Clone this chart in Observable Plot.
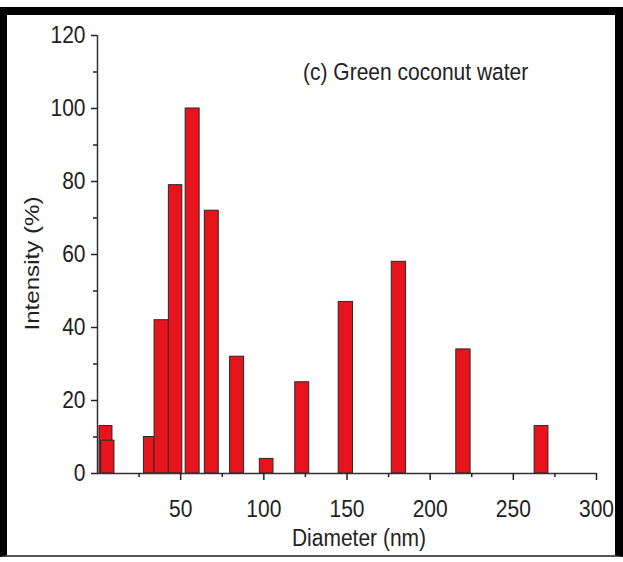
<!DOCTYPE html>
<html><head><meta charset="utf-8">
<script src="https://cdn.jsdelivr.net/npm/d3@7"></script>
<script src="https://cdn.jsdelivr.net/npm/@observablehq/plot@0.6"></script>
<style>
body{margin:0;background:#fff;}
#wrap{position:relative;width:623px;height:562px;overflow:hidden;font-family:"Liberation Sans",Arial,sans-serif;}
#chart{position:absolute;left:0;top:0;}
#frame{position:absolute;left:0;top:7px;width:623px;height:550px;box-sizing:border-box;border-left:7px solid #000;border-top:8px solid #000;border-right:8px solid #000;border-bottom:2px solid #555;pointer-events:none;}
#title{position:absolute;left:303px;top:60px;font-size:21px;color:#222;white-space:nowrap;transform:scaleY(1.15);transform-origin:center;}
</style></head>
<body>
<div id="wrap"><div id="chart"></div><div id="title">(c) Green coconut water</div><div id="frame"></div></div>
<script>
// Diameter bins (nm) and intensity (%)
const binStart  = [1.2, 2.2, 27.9, 34.3, 42.9, 53.0, 64.5, 79.7, 97.6, 118.9, 145.0, 176.9, 215.7, 262.8];
const binEnd    = [9.0, 10.2, 34.3, 42.9, 51.0, 61.4, 72.9, 88.1, 105.8, 127.3, 153.6, 185.5, 224.3, 271.1];
const intensity = [13, 9, 10, 42, 79, 100, 72, 32, 4, 25, 47, 58, 34, 13];

const xMajor = [50, 100, 150, 200, 250, 300];
const xMinor = [25, 75, 125, 175, 225, 275];
const yMajor = [0, 20, 40, 60, 80, 100, 120];
const yMinor = [10, 30, 50, 70, 90, 110];
const xLabel = "Diameter (nm)";
const yLabel = "Intensity (%)";

const data = intensity.map((v, i) => ({x1: binStart[i], x2: binEnd[i], y: v}));

const chart = Plot.plot({
  width: 623, height: 562,
  marginLeft: 97, marginRight: 27, marginTop: 35, marginBottom: 89,
  x: {domain: [0, 300]},
  y: {domain: [0, 120]},
  style: {fontFamily: '"Liberation Sans", Arial, sans-serif', fontSize: "21px", color: "#222", background: "transparent"},
  marks: [
    Plot.rectY(data, {x1: "x1", x2: "x2", y: "y", fill: "#e8131b", stroke: "#2a2a2a", strokeWidth: 1}),
    Plot.ruleY([0], {stroke: "#333", strokeWidth: 1.5}),
    Plot.ruleX([0], {stroke: "#333", strokeWidth: 1.5}),
    Plot.axisX({ticks: xMajor, tickSize: 7, tickPadding: 19, label: null, strokeWidth: 1.5}),
    Plot.axisX({ticks: xMinor, tickSize: 4, tickFormat: () => "", label: null, strokeWidth: 1.5}),
    Plot.axisY({ticks: yMajor, tickSize: 6, tickPadding: 6, label: null, strokeWidth: 1.5}),
    Plot.axisY({ticks: yMinor, tickSize: 4, tickFormat: () => "", label: null, strokeWidth: 1.5}),
    Plot.text([xLabel], {frameAnchor: "bottom", dx: 12, dy: 72, fontSize: 21}),
    Plot.text([yLabel], {frameAnchor: "left", textAnchor: "middle", rotate: -90, dx: -65, dy: 9, fontSize: 21})
  ]
});
// Reference image is stretched vertically; stretch glyphs the same way about their anchors
chart.querySelectorAll("text").forEach(t => {
  const tr = t.getAttribute("transform") || "";
  const s = /rotate\(\s*-?90/.test(tr) ? " scale(1.15,1)" : " scale(1,1.15)";
  t.setAttribute("transform", tr + s);
});
document.getElementById("chart").appendChild(chart);
</script>
</body></html>
